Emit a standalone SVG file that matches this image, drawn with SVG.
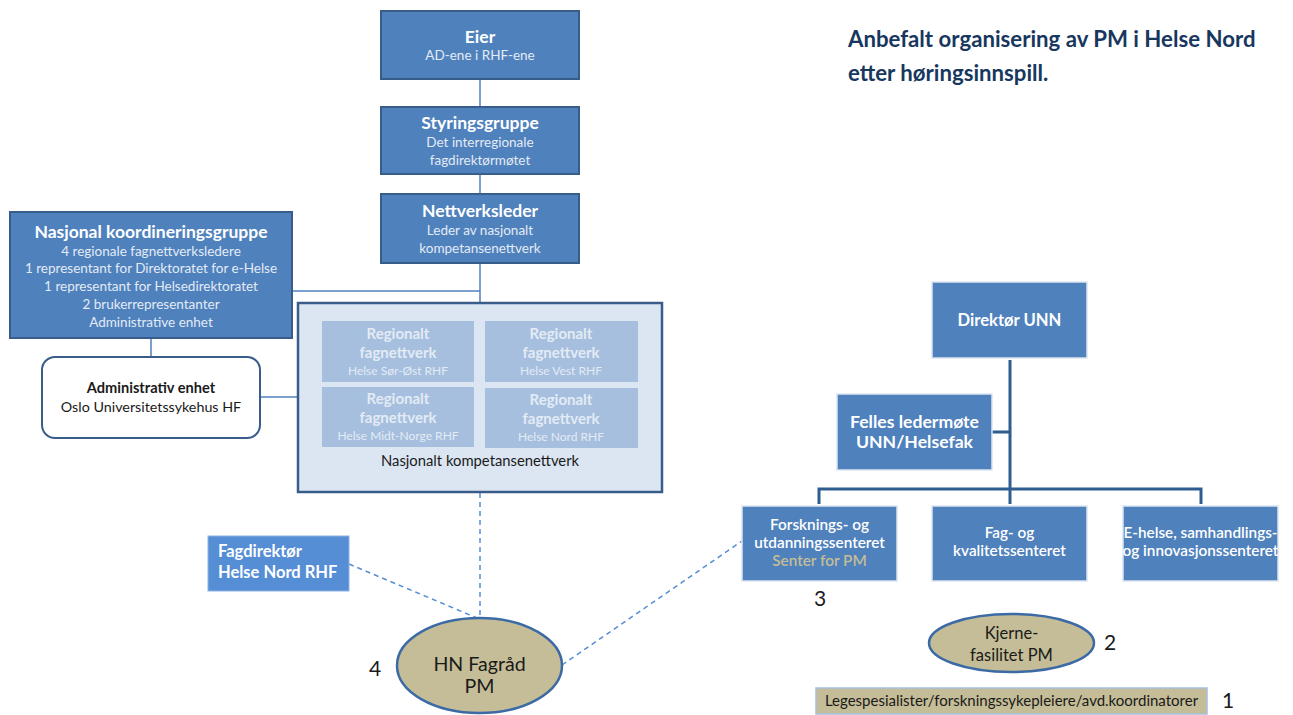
<svg xmlns="http://www.w3.org/2000/svg" width="1293" height="715" viewBox="0 0 1293 715">
<defs>
<style>
text{font-family:Lato,"Liberation Sans",sans-serif;text-anchor:middle}
.b{font-weight:bold}
.w{fill:#ffffff}
.lt{fill:#e3ebf5}
.dk{fill:#1a1a1a}
.box{fill:#4f81bd;stroke:#385d8a;stroke-width:2}
.boxr{fill:#4f81bd;stroke:#dbe5f1;stroke-width:1.5}
.inner{fill:#a6bfde;stroke:none}
.tan{fill:#c4bd97;stroke:#3c6aa5;stroke-width:2.5}
.ln{stroke:#4f81bd;stroke-width:1.5;fill:none}
.lnd{stroke:#2f5d8f;stroke-width:3;fill:none}
.dash{stroke:#558ed5;stroke-width:1.5;fill:none;stroke-dasharray:5 4}
.num{font-size:21px;fill:#1a1a1a}
.h{font-size:17.5px}
.s{font-size:13.5px}
.r{font-size:15px}
.rs{font-size:12px}
.c{font-size:15.3px;font-weight:600}
</style>
</defs>

<g id="connectors">
<line class="ln" x1="480" y1="79" x2="480" y2="107"/>
<line class="ln" x1="480" y1="174" x2="480" y2="194"/>
<line class="ln" x1="480" y1="263" x2="480" y2="303"/>
<line class="ln" x1="292" y1="291" x2="480" y2="291"/>
<line class="ln" x1="151" y1="338" x2="151" y2="357"/>
<line class="ln" x1="260" y1="397" x2="298" y2="397"/>
<line class="dash" x1="480" y1="493" x2="480" y2="618"/>
<line class="dash" x1="349" y1="564" x2="477" y2="618"/>
<line class="dash" x1="562" y1="665" x2="742" y2="541"/>
<line class="lnd" x1="1010" y1="360" x2="1010" y2="504"/>
<line class="lnd" x1="992" y1="432" x2="1010" y2="432"/>
<polyline class="lnd" points="819,504 819,489 1201,489 1201,504"/>
</g>

<g id="title">
<text x="848" y="47" class="b" style="text-anchor:start;font-size:22.2px;fill:#17375e">Anbefalt organisering av PM i Helse Nord</text>
<text x="848" y="81" class="b" style="text-anchor:start;font-size:22.2px;fill:#17375e">etter høringsinnspill.</text>
</g>

<g id="eier">
<rect class="box" x="381" y="11" width="198" height="68"/>
<text x="480" y="43" class="b w h">Eier</text>
<text x="480" y="60" class="lt s">AD-ene i RHF-ene</text>
</g>

<g id="styringsgruppe">
<rect class="box" x="381" y="107" width="198" height="67"/>
<text x="480" y="129" class="b w h">Styringsgruppe</text>
<text x="480" y="147" class="lt s">Det interregionale</text>
<text x="480" y="165" class="lt s">fagdirektørmøtet</text>
</g>

<g id="nettverksleder">
<rect class="box" x="381" y="194" width="198" height="69"/>
<text x="480" y="217" class="b w h">Nettverksleder</text>
<text x="480" y="235" class="lt s">Leder av nasjonalt</text>
<text x="480" y="253" class="lt s">kompetansenettverk</text>
</g>

<g id="koordineringsgruppe">
<rect class="box" x="10" y="212" width="282" height="126"/>
<text x="151" y="238" class="b w h">Nasjonal koordineringsgruppe</text>
<text x="151" y="256" class="lt s">4 regionale fagnettverksledere</text>
<text x="151" y="273" class="lt s">1 representant for Direktoratet for e-Helse</text>
<text x="151" y="291" class="lt s">1 representant for Helsedirektoratet</text>
<text x="151" y="309" class="lt s">2 brukerrepresentanter</text>
<text x="151" y="327" class="lt s">Administrative enhet</text>
</g>

<g id="administrativ">
<rect x="42" y="357" width="218" height="81" rx="13" style="fill:#ffffff;stroke:#385d8a;stroke-width:2"/>
<text x="151" y="393" class="b dk" style="font-size:14.6px">Administrativ enhet</text>
<text x="151" y="412" class="dk" style="font-size:14.3px">Oslo Universitetssykehus HF</text>
</g>

<g id="nasjonalt-nettverk">
<rect x="298" y="303" width="364" height="189" style="fill:#dce6f2;stroke:#385d8a;stroke-width:2.5"/>
<rect class="inner" x="322" y="321" width="152" height="61"/>
<text x="398" y="339" class="b lt r">Regionalt</text>
<text x="398" y="358" class="b lt r">fagnettverk</text>
<text x="398" y="375" class="lt rs">Helse Sør-Øst RHF</text>
<rect class="inner" x="485" y="321" width="153" height="61"/>
<text x="561" y="339" class="b lt r">Regionalt</text>
<text x="561" y="358" class="b lt r">fagnettverk</text>
<text x="561" y="375" class="lt rs">Helse Vest RHF</text>
<rect class="inner" x="322" y="387" width="152" height="60"/>
<text x="398" y="404" class="b lt r">Regionalt</text>
<text x="398" y="423" class="b lt r">fagnettverk</text>
<text x="398" y="440" class="lt rs">Helse Midt-Norge RHF</text>
<rect class="inner" x="485" y="388" width="153" height="60"/>
<text x="561" y="405" class="b lt r">Regionalt</text>
<text x="561" y="424" class="b lt r">fagnettverk</text>
<text x="561" y="441" class="lt rs">Helse Nord RHF</text>
<text x="480" y="466" class="dk" style="font-size:14.8px">Nasjonalt kompetansenettverk</text>
</g>

<g id="fagdirektor">
<rect x="208" y="536" width="141" height="55" style="fill:#558ed5;stroke:#8db3e2;stroke-width:1"/>
<text x="218" y="557" class="b w" style="text-anchor:start;font-size:16.5px">Fagdirektør</text>
<text x="218" y="578" class="b w" style="text-anchor:start;font-size:16.5px">Helse Nord RHF</text>
</g>

<g id="hn-fagrad">
<ellipse class="tan" cx="479.5" cy="665.5" rx="82.5" ry="47.5"/>
<text x="479.5" y="671" class="dk" style="font-size:19.6px">HN Fagråd</text>
<text x="479.5" y="693" class="dk" style="font-size:19.6px">PM</text>
<text x="375" y="676" class="num">4</text>
</g>

<g id="direktor-unn">
<rect class="boxr" x="932" y="282" width="155" height="76"/>
<text x="1009.5" y="326" class="b w" style="font-size:16.6px">Direktør UNN</text>
</g>

<g id="felles-ledermote">
<rect class="boxr" x="837" y="394" width="155" height="76"/>
<text x="914.5" y="428" class="b w" style="font-size:17.6px">Felles ledermøte</text>
<text x="914.5" y="448" class="b w" style="font-size:17.6px">UNN/Helsefak</text>
</g>

<g id="forskning">
<rect class="boxr" x="742" y="506" width="155" height="75"/>
<text x="819.5" y="530" class="w c">Forsknings- og</text>
<text x="819.5" y="548" class="w c">utdanningssenteret</text>
<text x="819.5" y="566" class="c" style="fill:#c4bd97">Senter for PM</text>
<text x="814" y="606" class="num" style="text-anchor:start">3</text>
</g>

<g id="fag-kvalitet">
<rect class="boxr" x="932" y="506" width="155" height="75"/>
<text x="1009.5" y="538" class="w c">Fag- og</text>
<text x="1009.5" y="556" class="w c">kvalitetssenteret</text>
</g>

<g id="e-helse">
<rect class="boxr" x="1123" y="506" width="155" height="75"/>
<text x="1200.5" y="538" class="w c">E-helse, samhandlings-</text>
<text x="1200.5" y="556" class="w c">og innovasjonssenteret</text>
</g>

<g id="kjernefasilitet">
<ellipse class="tan" cx="1011.5" cy="643" rx="82.5" ry="29"/>
<text x="1011.5" y="639" class="dk" style="font-size:16.5px">Kjerne-</text>
<text x="1011.5" y="661" class="dk" style="font-size:16.5px">fasilitet PM</text>
<text x="1110" y="650" class="num">2</text>
</g>

<g id="legespesialister">
<rect x="816" y="688" width="391" height="26" style="fill:#c4bd97;stroke:#a6bfde;stroke-width:1.5"/>
<text x="1011.5" y="706" class="dk" style="font-size:15px">Legespesialister/forskningssykepleiere/avd.koordinatorer</text>
<text x="1228" y="708" class="num">1</text>
</g>
</svg>
